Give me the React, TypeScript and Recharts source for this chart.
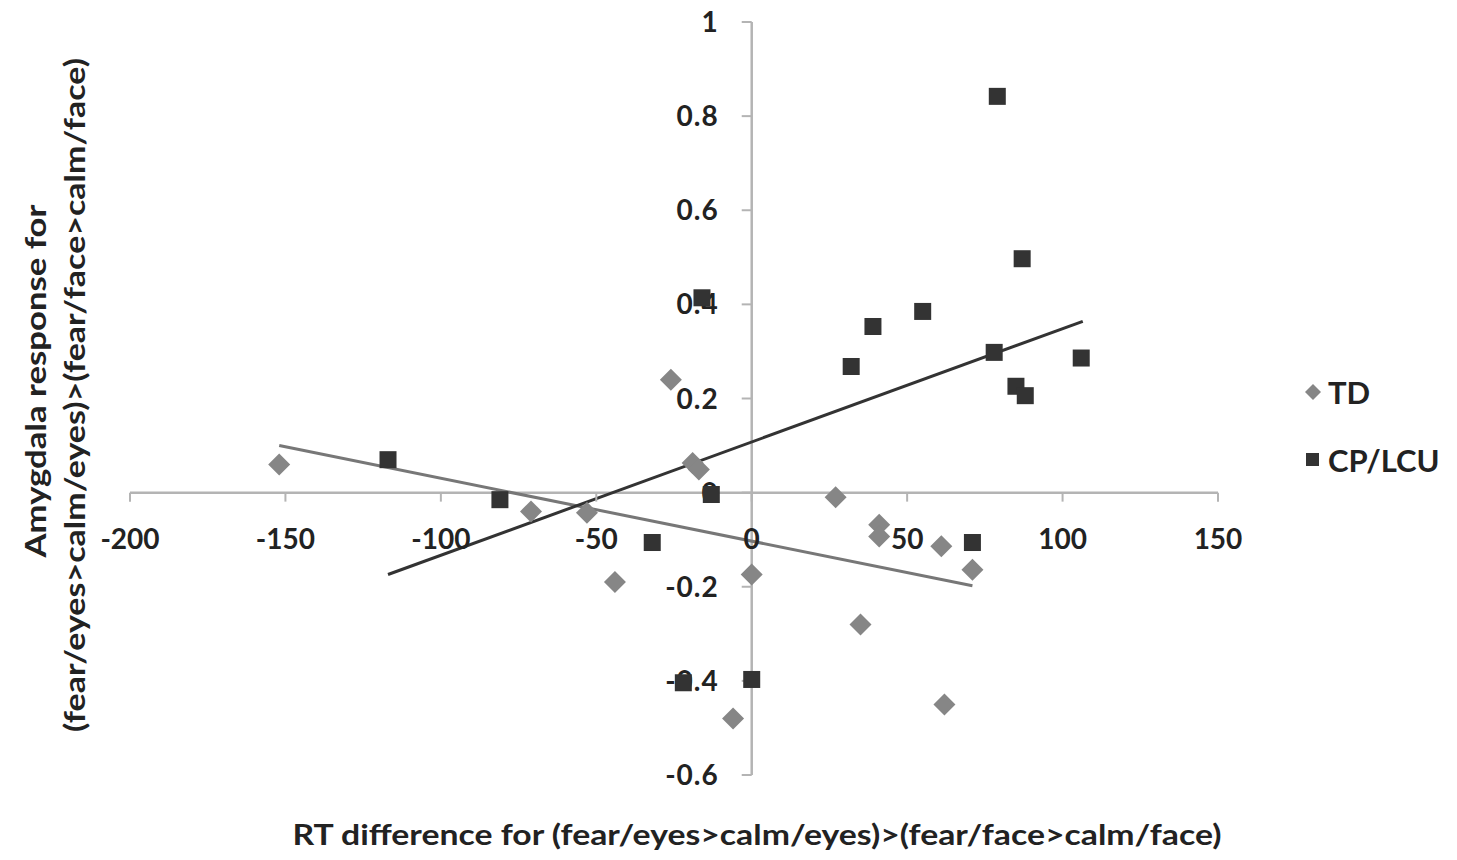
import React from "react";
import {
  Label,
  Legend,
  ReferenceDot,
  ReferenceLine,
  Scatter,
  ScatterChart,
  XAxis,
  YAxis,
} from "recharts";

// values
const tdX = [-152, -71, -53, -44, -26, -19, -17, 0, -6, 27, 41, 41, 35, 61, 62, 71];
const tdY = [0.06, -0.04, -0.043, -0.19, 0.24, 0.063, 0.049, -0.174, -0.48, -0.01, -0.068, -0.093, -0.28, -0.114, -0.45, -0.164];

const cpX = [-117, -81, -32, -16, -13, -22, 0, 32, 39, 55, 79, 78, 85, 88, 87, 106, 71];
const cpY = [0.07, -0.015, -0.106, 0.414, -0.004, -0.404, -0.397, 0.268, 0.353, 0.385, 0.842, 0.298, 0.226, 0.206, 0.497, 0.286, -0.106];

// linear trend lines (end points as drawn)
const tdTrendX = [-152, 71];
const tdTrendY = [0.1, -0.198];
const cpTrendX = [-117, 106.5];
const cpTrendY = [-0.174, 0.364];

const xTicks = [-200, -150, -100, -50, 0, 50, 100, 150];
const yTicks = [-0.6, -0.4, -0.2, 0, 0.2, 0.4, 0.6, 0.8, 1];

const xTitle = "RT difference for (fear/eyes>calm/eyes)>(fear/face>calm/face)";
const yTitle1 = "Amygdala response for";
const yTitle2 = "(fear/eyes>calm/eyes)>(fear/face>calm/face)";

const tdData = tdX.map((x, i) => ({ x, y: tdY[i] }));
const cpData = cpX.map((x, i) => ({ x, y: cpY[i] }));

const FONT = "Lato, 'Open Sans', sans-serif";
const TEXT = "#222222";
const AXIS = "#b4b4b4";
const TD_COLOR = "#868686";
const CP_COLOR = "#333333";

const Diamond = (p: any) => {
  const { cx, cy } = p;
  const r = 11;
  return (
    <polygon
      points={`${cx},${cy - r} ${cx + r},${cy} ${cx},${cy + r} ${cx - r},${cy}`}
      fill={TD_COLOR}
    />
  );
};

const Square = (p: any) => {
  const { cx, cy } = p;
  const s = 17;
  return <rect x={cx - s / 2} y={cy - s / 2} width={s} height={s} fill={CP_COLOR} />;
};

const XTick = ({ cx, cy, value }: any) => (
  <g>
    <line x1={cx} y1={cy} x2={cx} y2={cy + 9} stroke={AXIS} strokeWidth={2} />
    <text
      x={cx}
      y={cy + 56}
      textAnchor="middle"
      fontFamily={FONT}
      fontWeight={700}
      fontSize={28}
      fill={TEXT}
    >
      {String(value)}
    </text>
  </g>
);

const YTick = ({ cx, cy, value }: any) => (
  <g>
    <line x1={cx} y1={cy} x2={cx - 10} y2={cy} stroke={AXIS} strokeWidth={2} />
    <text
      x={cx - 33}
      y={cy + 10}
      textAnchor="end"
      fontFamily={FONT}
      fontWeight={700}
      fontSize={28}
      fill={TEXT}
      letterSpacing={1}
    >
      {String(value)}
    </text>
  </g>
);

const renderXTitle = (props: any) => {
  const vb = props.viewBox || { x: 130, y: 775, width: 1088, height: 85 };
  return (
    <text
      x={vb.x + vb.width / 2 + 83}
      y={vb.y + 70}
      textAnchor="middle"
      fontFamily={FONT}
      fontWeight={700}
      fontSize={28}
      fill={TEXT}
      textLength={929}
      lengthAdjust="spacingAndGlyphs"
    >
      {xTitle}
    </text>
  );
};

const renderYTitle = () => (
  <g fontFamily={FONT} fontWeight={700} fontSize={28} fill={TEXT}>
    <text
      transform="translate(46,381) rotate(-90)"
      textAnchor="middle"
      textLength={353}
      lengthAdjust="spacingAndGlyphs"
    >
      {yTitle1}
    </text>
    <text
      transform="translate(85,395) rotate(-90)"
      textAnchor="middle"
      textLength={674}
      lengthAdjust="spacingAndGlyphs"
    >
      {yTitle2}
    </text>
  </g>
);

const renderLegend = () => (
  <div style={{ fontFamily: FONT, fontWeight: 700, fontSize: 31, color: TEXT }}>
    <div style={{ display: "flex", alignItems: "center", height: 68 }}>
      <svg width={22} height={22}>
        <polygon points="11,3 19,11 11,19 3,11" fill={TD_COLOR} />
      </svg>
      <span style={{ marginLeft: 4 }}>TD</span>
    </div>
    <div style={{ display: "flex", alignItems: "center", height: 68 }}>
      <svg width={22} height={22}>
        <rect x={4} y={4} width={13} height={13} fill={CP_COLOR} />
      </svg>
      <span style={{ marginLeft: 4 }}>CP/LCU</span>
    </div>
  </div>
);

export default function App() {
  return (
    <div style={{ position: "absolute", left: 0, top: 0, width: 1457, height: 860, background: "#fff" }}>
      <ScatterChart width={1457} height={860} margin={{ top: 22, right: 79, bottom: 0, left: 0 }}>
        <XAxis
          type="number"
          dataKey="x"
          domain={[-200, 150]}
          ticks={xTicks}
          axisLine={false}
          tickLine={false}
          tick={false}
          height={85}
          label={<Label content={renderXTitle} />}
        />
        <YAxis
          type="number"
          dataKey="y"
          domain={[-0.6, 1]}
          ticks={yTicks}
          axisLine={false}
          tickLine={false}
          tick={false}
          width={130}
          label={<Label content={renderYTitle} />}
        />
        <ReferenceLine y={0} stroke={AXIS} strokeWidth={2.5} ifOverflow="visible" />
        <ReferenceLine x={0} stroke={AXIS} strokeWidth={2.5} ifOverflow="visible" />
        {xTicks.map((v) => (
          <ReferenceDot
            key={`xt${v}`}
            x={v}
            y={0}
            r={0}
            ifOverflow="visible"
            shape={(p: any) => <XTick {...p} value={v} />}
          />
        ))}
        {yTicks.map((v) => (
          <ReferenceDot
            key={`yt${v}`}
            x={0}
            y={v}
            r={0}
            ifOverflow="visible"
            shape={(p: any) => <YTick {...p} value={v} />}
          />
        ))}
        <Scatter name="TD" data={tdData} fill={TD_COLOR} shape={Diamond} isAnimationActive={false} />
        <Scatter name="CP/LCU" data={cpData} fill={CP_COLOR} shape={Square} isAnimationActive={false} />
        <ReferenceLine
          segment={[
            { x: tdTrendX[0], y: tdTrendY[0] },
            { x: tdTrendX[1], y: tdTrendY[1] },
          ]}
          stroke="#777777"
          strokeWidth={3}
          ifOverflow="visible"
        />
        <ReferenceLine
          segment={[
            { x: cpTrendX[0], y: cpTrendY[0] },
            { x: cpTrendX[1], y: cpTrendY[1] },
          ]}
          stroke={CP_COLOR}
          strokeWidth={3}
          ifOverflow="visible"
        />
        <Legend
          layout="vertical"
          align="right"
          verticalAlign="middle"
          content={renderLegend}
          wrapperStyle={{ left: 1302, top: 358, width: 160, right: "auto", bottom: "auto" }}
        />
      </ScatterChart>
    </div>
  );
}
